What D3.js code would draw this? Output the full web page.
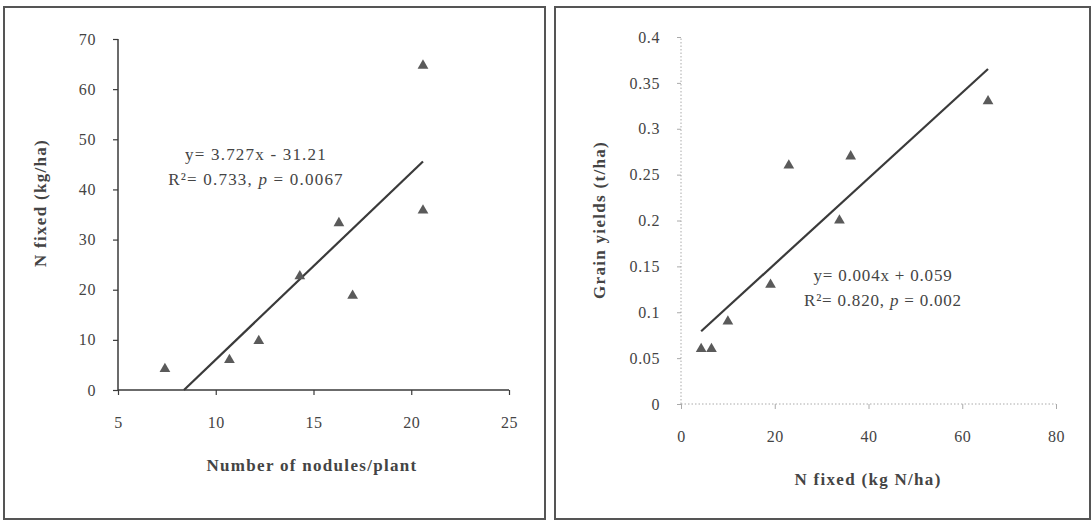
<!DOCTYPE html>
<html>
<head>
<meta charset="utf-8">
<script src="https://cdn.jsdelivr.net/npm/d3@7"></script>
<style>
  html, body { margin: 0; padding: 0; background: #fff; }
  svg { display: block; }
  text { font-family: "Liberation Serif", "DejaVu Serif", serif; fill: #444; }
</style>
</head>
<body>
<svg id="chart" width="1092" height="522"></svg>
<script>
// ---- Data ----
const nodulesPerPlant = [7.4, 10.7, 12.2, 14.3, 16.3, 17.0, 20.6, 20.6];
const nFixedLeft      = [4.2, 6.0, 9.8, 22.7, 33.3, 18.8, 35.8, 64.7];

const nFixedRight     = [4.3, 6.5, 10.0, 19.1, 23.0, 33.8, 36.2, 65.5];
const grainYields     = [0.06, 0.06, 0.09, 0.13, 0.26, 0.20, 0.27, 0.33];

const leftXTicks  = [5, 10, 15, 20, 25];
const leftYTicks  = [0, 10, 20, 30, 40, 50, 60, 70];
const rightXTicks = [0, 20, 40, 60, 80];
const rightYTicks = [0, 0.05, 0.1, 0.15, 0.2, 0.25, 0.3, 0.35, 0.4];
const rightYLabels = ["0", "0.05", "0.1", "0.15", "0.2", "0.25", "0.3", "0.35", "0.4"];

// trend lines: slope, intercept, x extent
const leftTrend  = { slope: 3.727,   intercept: -31.21, x0: 8.374, x1: 20.6 };
const rightTrend = { slope: 0.00467, intercept: 0.0592, x0: 4.3,   x1: 65.5 };

const svg = d3.select("#chart");

function drawPanel(cfg) {
  const g = svg.append("g");
  // frame
  g.append("rect")
    .attr("x", cfg.frame[0]).attr("y", cfg.frame[1])
    .attr("width", cfg.frame[2]).attr("height", cfg.frame[3])
    .attr("fill", "none").attr("stroke", "#555").attr("stroke-width", 2);

  const x = d3.scaleLinear().domain(cfg.xDomain).range(cfg.xRange);
  const y = d3.scaleLinear().domain(cfg.yDomain).range(cfg.yRange);

  const xAxis = d3.axisBottom(x).tickValues(cfg.xTicks).tickSize(5).tickPadding(cfg.xPad)
    .tickFormat(d3.format("d"));
  const yAxis = d3.axisLeft(y).tickValues(cfg.yTicks).tickSize(cfg.yTickSize).tickPadding(cfg.yPad)
    .tickFormat((d, i) => cfg.yLabels ? cfg.yLabels[i] : d);

  const gx = g.append("g").attr("transform", `translate(0,${cfg.yRange[0]})`).call(xAxis);
  const gy = g.append("g").attr("transform", `translate(${cfg.xRange[0]},0)`).call(yAxis);
  [gx, gy].forEach(a => {
    a.select(".domain").attr("stroke", cfg.axisColor).attr("stroke-width", cfg.axisWidth)
      .attr("stroke-dasharray", cfg.axisDash);
    a.selectAll(".tick line").attr("stroke", cfg.axisColor).attr("stroke-width", cfg.tickWidth);
    a.selectAll(".tick text").attr("font-size", 16).attr("fill", "#4a4a4a")
      .style("font-family", '"Liberation Serif", serif').style("letter-spacing", "0.6px");
  });
  gx.select(".domain").attr("d", `M${cfg.xRange[0]},0H${cfg.xRange[1]}`);
  gy.select(".domain").attr("d", `M0,${cfg.yRange[0]}V${cfg.yRange[1]}`);

  // trend line
  const t = cfg.trend;
  g.append("line")
    .attr("x1", x(t.x0)).attr("y1", y(t.slope * t.x0 + t.intercept))
    .attr("x2", x(t.x1)).attr("y2", y(t.slope * t.x1 + t.intercept))
    .attr("stroke", "#3a3a3a").attr("stroke-width", 2.2);

  // points
  const tri = d3.symbol().type(d3.symbolTriangle).size(50);
  g.selectAll("path.pt").data(cfg.xs).join("path")
    .attr("class", "pt")
    .attr("d", tri)
    .attr("transform", (d, i) => `translate(${x(d)},${y(cfg.ys[i])})`)
    .attr("fill", "#5a5a5a");

  // equation
  const eq = g.append("text").attr("text-anchor", "middle").attr("font-size", 17)
    .style("letter-spacing", cfg.eqSpacing).attr("fill", "#4a4a4a");
  eq.append("tspan").attr("x", cfg.eqPos[0]).attr("y", cfg.eqPos[1]).text(cfg.eq1);
  const l2 = eq.append("tspan").attr("x", cfg.eqPos[0]).attr("y", cfg.eqPos[1] + 25);
  l2.append("tspan").text(cfg.eq2a);
  l2.append("tspan").attr("font-style", "italic").text("p");
  l2.append("tspan").text(cfg.eq2b);

  // axis titles
  g.append("text").attr("text-anchor", "middle").attr("font-weight", "bold").attr("font-size", 17)
    .style("letter-spacing", "1.3px").attr("fill", "#4a4a4a")
    .attr("x", cfg.xTitlePos[0]).attr("y", cfg.xTitlePos[1]).text(cfg.xTitle);
  g.append("text").attr("text-anchor", "middle").attr("font-weight", "bold").attr("font-size", 17)
    .style("letter-spacing", "1.3px").attr("fill", "#4a4a4a")
    .attr("transform", `translate(${cfg.yTitlePos[0]},${cfg.yTitlePos[1]}) rotate(-90)`)
    .text(cfg.yTitle);
}

drawPanel({
  frame: [4, 7, 541, 512],
  xDomain: [5, 25], xRange: [118, 509],
  yDomain: [0, 70], yRange: [390, 39],
  xTicks: leftXTicks, yTicks: leftYTicks,
  xPad: 22, yPad: 17, yTickSize: 5,
  axisColor: "#3a3a3a", axisWidth: 1.5, axisDash: null, tickWidth: 1.2,
  xs: nodulesPerPlant, ys: nFixedLeft, trend: leftTrend,
  eq1: "y= 3.727x - 31.21", eq2a: "R²= 0.733, ", eq2b: " = 0.0067",
  eqPos: [256, 160], eqSpacing: "1.2px",
  xTitle: "Number of nodules/plant", xTitlePos: [312, 471],
  yTitle: "N fixed (kg/ha)", yTitlePos: [46, 203]
});

drawPanel({
  frame: [555, 7, 535, 512],
  xDomain: [0, 80], xRange: [681, 1056],
  yDomain: [0, 0.4], yRange: [404, 37],
  xTicks: rightXTicks, yTicks: rightYTicks, yLabels: rightYLabels,
  xPad: 22, yPad: 17, yTickSize: 4,
  axisColor: "#aaa", axisWidth: 1, axisDash: "1.5,2", tickWidth: 1,
  xs: nFixedRight, ys: grainYields, trend: rightTrend,
  eq1: "y= 0.004x + 0.059", eq2a: "R²= 0.820, ", eq2b: " = 0.002",
  eqPos: [883, 281], eqSpacing: "0.8px",
  xTitle: "N fixed (kg N/ha)", xTitlePos: [868, 485],
  yTitle: "Grain yields (t/ha)", yTitlePos: [605, 220]
});
</script>
</body>
</html>
